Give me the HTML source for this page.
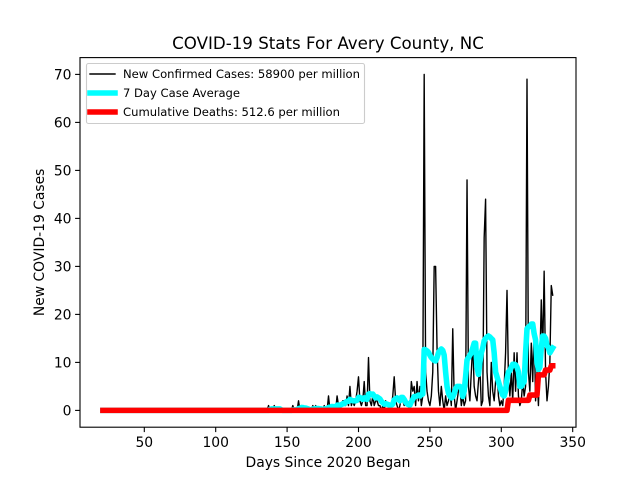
<!DOCTYPE html>
<html>
<head>
<meta charset="utf-8">
<title>COVID-19 Stats For Avery County, NC</title>
<style>
html,body{margin:0;padding:0;background:#fff;}
svg{display:block;font-family:"DejaVu Sans","Liberation Sans",sans-serif;}
</style>
</head>
<body>
<svg id="chart" xmlns="http://www.w3.org/2000/svg" width="640" height="480" viewBox="0 0 640 480">
  <rect x="0" y="0" width="640" height="480" fill="#fff"/>
  <g id="series"></g>
  <rect x="80" y="57.6" width="496" height="369.6" fill="none" stroke="#000" stroke-width="1.1"/>
  <g id="ticks"></g>
  <text x="328" y="49" font-size="16.67" text-anchor="middle" fill="#000">COVID-19 Stats For Avery County, NC</text>
  <text x="328" y="467" font-size="13.89" text-anchor="middle" fill="#000">Days Since 2020 Began</text>
  <text transform="translate(44 242.4) rotate(-90)" font-size="13.89" text-anchor="middle" fill="#000">New COVID-19 Cases</text>
  <g>
    <rect x="86.5" y="63.5" width="278" height="60" rx="2" fill="#fff" fill-opacity="0.8" stroke="#ccc" stroke-width="1.1"/>
    <line x1="90" y1="74" x2="115" y2="74" stroke="#000" stroke-width="1.39" stroke-linecap="square"/>
    <text x="123" y="78" font-size="11.8" fill="#000" textLength="237" lengthAdjust="spacingAndGlyphs">New Confirmed Cases: 58900 per million</text>
    <line x1="90" y1="93" x2="115" y2="93" stroke="#0ff" stroke-width="5.56" stroke-linecap="square"/>
    <text x="123" y="97" font-size="11.8" fill="#000" textLength="117" lengthAdjust="spacingAndGlyphs">7 Day Case Average</text>
    <line x1="90" y1="112" x2="115" y2="112" stroke="#f00" stroke-width="5.56" stroke-linecap="square"/>
    <text x="123" y="116" font-size="11.8" fill="#000" textLength="217" lengthAdjust="spacingAndGlyphs">Cumulative Deaths: 512.6 per million</text>
  </g>
</svg>
<script>
const startDay = 21;
const xTickValues = [50, 100, 150, 200, 250, 300, 350];
const yTickValues = [0, 10, 20, 30, 40, 50, 60, 70];
const newCases = [
0,0,0,0,0,0,0,0,0,0,
0,0,0,0,0,0,0,0,0,0,
0,0,0,0,0,0,0,0,0,0,
0,0,0,0,0,0,0,0,0,0,
0,0,0,0,0,0,0,0,0,0,
0,0,0,0,0,0,0,0,0,0,
0,0,0,0,0,0,0,0,0,0,
0,0,0,0,0,0,0,0,0,0,
0,0,0,0,0,0,0,0,0,0,
0,0,0,0,0,0,0,0,0,0,
0,0,0,0,0,0,0,0,0,0,
0,0,0,0,0,0,
1,0,0,0,1,0,0,0,0,0,0,0,0,
0,0,0,0,1,0,0,0,2,0,
1,0,0,0,0,0,0,0,1,0,
1,0,0,0,0,0,1,0,0,3,
0,1,0,0,0,3,1,0,1,2,
2,1,3,1,5,1,2,1,2,4,
7,2,1,2,6,1,1,11,2,1,
3,1,2,2,1,1,0,1,0,2,
1,1,0,1,3,7,2,1,0,1,
3,2,1,2,1,1,0,6,4,5,
1,6,2,5,1,3,70,8,4,2,
1,3,8,30,30,13,4,1,5,2,
0,3,1,2,4,1,17,3,0,2,
4,5,1,3,1,2,48,5,2,8,
14,5,3,2,6,9,1,2,36,44,
8,3,1,10,4,2,6,8,3,1,
2,1,5,12,25,7,3,8,2,12,
4,12,3,1,2,6,3,5,69,8,
4,14,6,18,2,8,1,10,23,12,
29,8,2,5,10,26,24
];
const caseAverage = [
0,0,0,0,0,0,0,0,0,0,
0,0,0,0,0,0,0,0,0,0,
0,0,0,0,0,0,0,0,0,0,
0,0,0,0,0,0,0,0,0,0,
0,0,0,0,0,0,0,0,0,0,
0,0,0,0,0,0,0,0,0,0,
0,0,0,0,0,0,0,0,0,0,
0,0,0,0,0,0,0,0,0,0,
0,0,0,0,0,0,0,0,0,0,
0,0,0,0,0,0,0,0,0,0,
0,0,0,0,0,0,0,0,0,0,
0,0,0,0,0,0,
0,0.2,0.3,0.3,0.3,0.3,0.3,0.3,0.3,0.1,0,0,0,
0,0,0,0,0.1,0.1,0.1,0.1,0.4,0.4,
0.6,0.6,0.5,0.5,0.4,0.3,0.1,0.1,0.3,0.3,
0.4,0.4,0.4,0.3,0.3,0.2,0.3,0.3,0.3,0.6,
0.6,0.8,0.8,0.7,0.7,1.1,1.1,1.1,1.2,1.4,
1.4,1.7,1.9,1.9,2.3,2.1,2.0,2.0,2.0,2.1,
2.7,2.7,2.5,2.3,2.6,2.4,2.3,3.4,3.5,3.3,
3.4,3.0,2.6,2.8,2.6,2.4,1.9,1.6,1.3,1.4,
1.3,1.2,1.0,1.1,1.3,2.2,2.4,2.6,2.3,2.0,
2.7,2.7,2.3,1.7,1.4,1.2,1.1,1.8,2.3,2.9,
2.9,3.0,3.2,3.0,3.3,3.4,12.7,12.6,12.4,12.1,
11.5,11,10.7,10.4,10.3,11,12,12.5,12.8,12.5,
11.5,8,5,3.6,3,2.6,2.8,3.5,4.5,5,
5,5,4.8,2.9,4,7,10.5,11,11.5,12,
13,14,14,9,7.5,10,12,13,14.5,15,
15.3,15.5,15.3,15,14.7,12,8,7,6,5,
4,3.2,3,4,6.5,8,8.3,9,9.6,9.6,
9.5,9,8,5,5,5.5,6,12,17,17.4,
17.5,18,18,16,14.7,10,8.5,9,13,15.5,
15.5,15,13.5,13,12,12.5,13
];
const cumulativeDeaths = [
0,0,0,0,0,0,0,0,0,0,
0,0,0,0,0,0,0,0,0,0,
0,0,0,0,0,0,0,0,0,0,
0,0,0,0,0,0,0,0,0,0,
0,0,0,0,0,0,0,0,0,0,
0,0,0,0,0,0,0,0,0,0,
0,0,0,0,0,0,0,0,0,0,
0,0,0,0,0,0,0,0,0,0,
0,0,0,0,0,0,0,0,0,0,
0,0,0,0,0,0,0,0,0,0,
0,0,0,0,0,0,0,0,0,0,
0,0,0,0,0,0,0,0,0,0,
0,0,0,0,0,0,0,0,0,0,
0,0,0,0,0,0,0,0,0,0,
0,0,0,0,0,0,0,0,0,0,
0,0,0,0,0,0,0,0,0,0,
0,0,0,0,0,0,0,0,0,0,
0,0,0,0,0,0,0,0,0,0,
0,0,0,0,0,0,0,0,0,0,
0,0,0,0,0,0,0,0,0,0,
0,0,0,0,0,0,0,0,0,0,
0,0,0,0,0,0,0,0,0,0,
0,0,0,0,0,0,0,0,0,0,
0,0,0,0,0,0,0,0,0,0,
0,0,0,0,0,0,0,0,0,0,
0,0,0,0,0,0,0,0,0,0,
0,0,0,0,0,0,0,0,0,0,
0,0,0,0,0,0,0,0,0,0,
0,0,0,0,
2.1,2.1,2.1,2.1,2.1,2.1,2.1,2.1,2.1,2.1,2.1,2.1,2.1,2.1,2.1,
3.2,3.2,3.2,3.2,3.2,3.2,
7.4,7.4,7.4,7.4,7.4,
8.4,8.4,8.4,8.4,
9.3,9.3
];

const NS = 'http://www.w3.org/2000/svg';
function xScale(day) { return 144.3 + (day - 50) * 1.428; }
function yScale(value) { return 410.4 - value * 4.8; }
function linePoints(values) {
  return values.map(function (v, i) {
    return xScale(startDay + i).toFixed(2) + ',' + yScale(v).toFixed(2);
  }).join(' ');
}
function drawSeries(values, color, width, name) {
  const el = document.createElementNS(NS, 'polyline');
  el.setAttribute('points', linePoints(values));
  el.setAttribute('fill', 'none');
  el.setAttribute('stroke', color);
  el.setAttribute('stroke-width', width);
  el.setAttribute('stroke-linejoin', 'round');
  el.setAttribute('stroke-linecap', 'square');
  
  
  document.getElementById('series').appendChild(el);
}
drawSeries(newCases, '#000', 1.39, 'new-cases-line');
drawSeries(caseAverage, '#0ff', 5.56, 'seven-day-average-line');
drawSeries(cumulativeDeaths, '#f00', 5.56, 'cumulative-deaths-line');

const tickLayer = document.getElementById('ticks');
xTickValues.forEach(function (t) {
  const x = xScale(t);
  const mark = document.createElementNS(NS, 'line');
  mark.setAttribute('x1', x);
  mark.setAttribute('x2', x);
  mark.setAttribute('y1', 427.2);
  mark.setAttribute('y2', 432.1);
  mark.setAttribute('stroke', '#000');
  mark.setAttribute('stroke-width', 1.1);
  
  
  tickLayer.appendChild(mark);
  const label = document.createElementNS(NS, 'text');
  label.setAttribute('x', x);
  label.setAttribute('y', 447);
  label.setAttribute('font-size', 13.89);
  label.setAttribute('text-anchor', 'middle');
  label.textContent = t;
  
  
  tickLayer.appendChild(label);
});
yTickValues.forEach(function (t) {
  const y = yScale(t);
  const mark = document.createElementNS(NS, 'line');
  mark.setAttribute('x1', 75.1);
  mark.setAttribute('x2', 80);
  mark.setAttribute('y1', y);
  mark.setAttribute('y2', y);
  mark.setAttribute('stroke', '#000');
  mark.setAttribute('stroke-width', 1.1);
  
  
  tickLayer.appendChild(mark);
  const label = document.createElementNS(NS, 'text');
  label.setAttribute('x', 71.5);
  label.setAttribute('y', y + 5.2);
  label.setAttribute('font-size', 13.89);
  label.setAttribute('text-anchor', 'end');
  label.textContent = t;
  
  
  tickLayer.appendChild(label);
});
</script>
</body>
</html>
